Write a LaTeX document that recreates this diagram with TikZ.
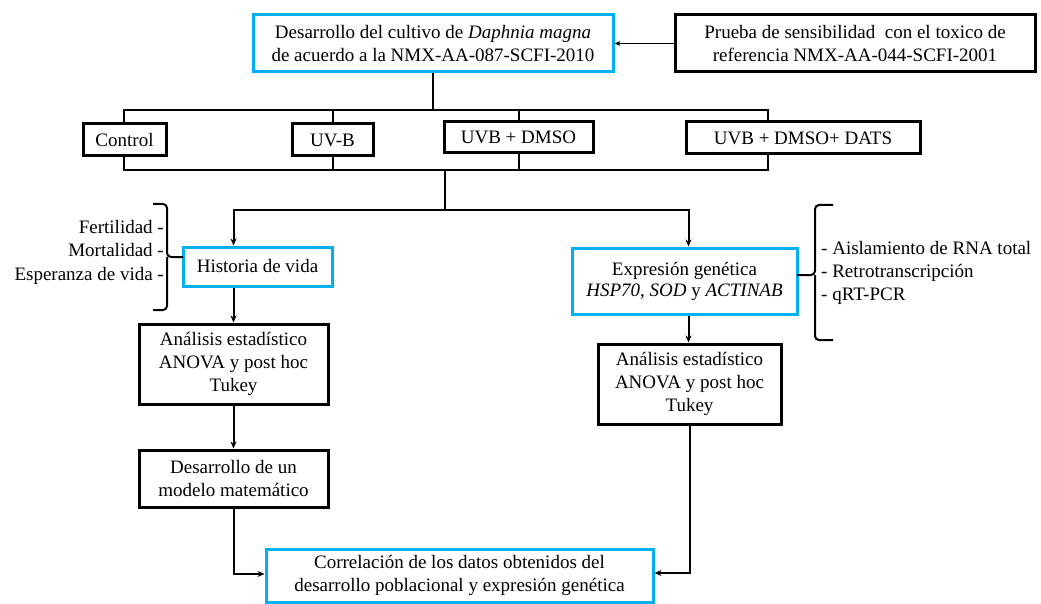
\documentclass[tikz,border=0pt]{standalone}
\usepackage{fontspec}
\setmainfont{Liberation Serif}
\usetikzlibrary{arrows.meta}
\definecolor{boxblue}{RGB}{0,176,240}
\begin{document}
\begin{tikzpicture}[x=1pt,y=-1pt,
  font=\fontsize{19}{23}\selectfont,
  bbox/.style={draw=black, line width=3pt, inner sep=0pt, align=center, fill=white},
  blbox/.style={draw=boxblue, line width=3pt, inner sep=0pt, align=center, fill=white},
  conn/.style={line width=2pt},
  arr/.style={line width=2pt, -{Stealth[length=7pt,width=6pt]}},
  tarr/.style={line width=1.2pt, -{Stealth[length=6pt,width=5pt]}},
]
\useasboundingbox (0,0) rectangle (1041,604);

% boxes
\node[blbox, minimum width=360pt, minimum height=57pt] (top) at (433,43.5)
  {Desarrollo del cultivo de \textit{Daphnia magna}\\de acuerdo a la NMX-AA-087-SCFI-2010};
\node[bbox, minimum width=360pt, minimum height=57pt] (prueba) at (855,43.5)
  {Prueba de sensibilidad\ \ con el toxico de\\referencia NMX-AA-044-SCFI-2001};
\node[bbox, minimum width=83pt, minimum height=32pt] (control) at (124.5,140) {Control};
\node[bbox, minimum width=81pt, minimum height=32pt] (uvb) at (332.5,140) {UV-B};
\node[bbox, minimum width=149pt, minimum height=31pt] (uvbdmso) at (518.5,137.5) {UVB + DMSO};
\node[bbox, minimum width=234pt, minimum height=32pt] (dats) at (803,138) {UVB + DMSO+ DATS};
\node[blbox, minimum width=149pt, minimum height=39pt] (historia) at (257.5,266.5) {Historia de vida};
\node[bbox, minimum width=189pt, minimum height=80pt] (anal1) at (233.5,364)
  {Análisis estadístico\\ANOVA y post hoc\\Tukey};
\node[bbox, minimum width=189pt, minimum height=57pt] (desarrollo) at (233.5,478.5)
  {Desarrollo de un\\modelo matemático};
\node[blbox, minimum width=225pt, minimum height=66pt, font=\fontsize{19}{21}\selectfont] (expresion) at (684.5,281)
  {Expresión genética\\\textit{HSP70}, \textit{SOD} y \textit{ACTINAB}};
\node[bbox, minimum width=183pt, minimum height=80pt] (anal2) at (689.5,384)
  {Análisis estadístico\\ANOVA y post hoc\\Tukey};
\node[blbox, minimum width=387pt, minimum height=53pt] (correl) at (459.5,575.5)
  {Correlación de los datos obtenidos del\\desarrollo poblacional y expresión genética};

% side texts
\node[anchor=east, align=right, inner sep=0pt, font=\fontsize{19}{23.5}\selectfont] (lefttxt) at (164,252)
  {Fertilidad -\\Mortalidad -\\Esperanza de vida -};
\node[anchor=west, align=left, inner sep=0pt, font=\fontsize{19}{23}\selectfont] (righttxt) at (821,272.5)
  {- Aislamiento de RNA total\\- Retrotranscripción\\- qRT-PCR};

% braces
\coordinate (ltip) at (183,257);
\draw[conn, rounded corners=4pt] (153,204) -- (167,204) -- (167,257) -- (ltip);
\draw[conn, rounded corners=4pt] (153,310) -- (167,310) -- (167,257);
\coordinate (rtip) at (797,275);
\draw[conn, rounded corners=4pt] (833,205) -- (815,205) -- (815,275) -- (rtip);
\draw[conn, rounded corners=4pt] (833,340) -- (815,340) -- (815,275);

% top arrow
\draw[tarr] (prueba.west) -- (top.east);

% buses
\coordinate (tb1) at (124,110);
\coordinate (tb2) at (768,110);
\coordinate (tbm) at (433,110);
\draw[conn] (top.south) -- (tbm);
\draw[conn] (control.north -| tb1) |- (tb2) -- (dats.north -| tb2);
\draw[conn] (uvb.north) -- (uvb.north |- tb1);
\draw[conn] (uvbdmso.north) -- (uvbdmso.north |- tb1);
\coordinate (bb1) at (124,170);
\coordinate (bb2) at (768,170);
\coordinate (bbm) at (445,170);
\draw[conn] (control.south -| bb1) |- (bb2) -- (dats.south -| bb2);
\draw[conn] (uvb.south) -- (uvb.south |- bb1);
\draw[conn] (uvbdmso.south) -- (uvbdmso.south |- bb1);
\coordinate (split) at (445,210);
\draw[conn] (bbm) -- (split);
\draw[arr] (split) -| (historia.north -| anal1.north);
\draw[arr] (split) -| ([xshift=4pt]expresion.north);

% flow
\draw[arr] (historia.south -| anal1.north) -- (anal1.north);
\draw[arr] (anal1.south) -- (desarrollo.north);
\draw[arr] ([xshift=4pt]expresion.south) -- ([xshift=4pt]expresion.south |- anal2.north);
\draw[arr] (desarrollo.south) |- ([yshift=1.5pt]correl.west);
\draw[arr] (anal2.south) |- ([yshift=2.5pt]correl.east);
\end{tikzpicture}
\end{document}
